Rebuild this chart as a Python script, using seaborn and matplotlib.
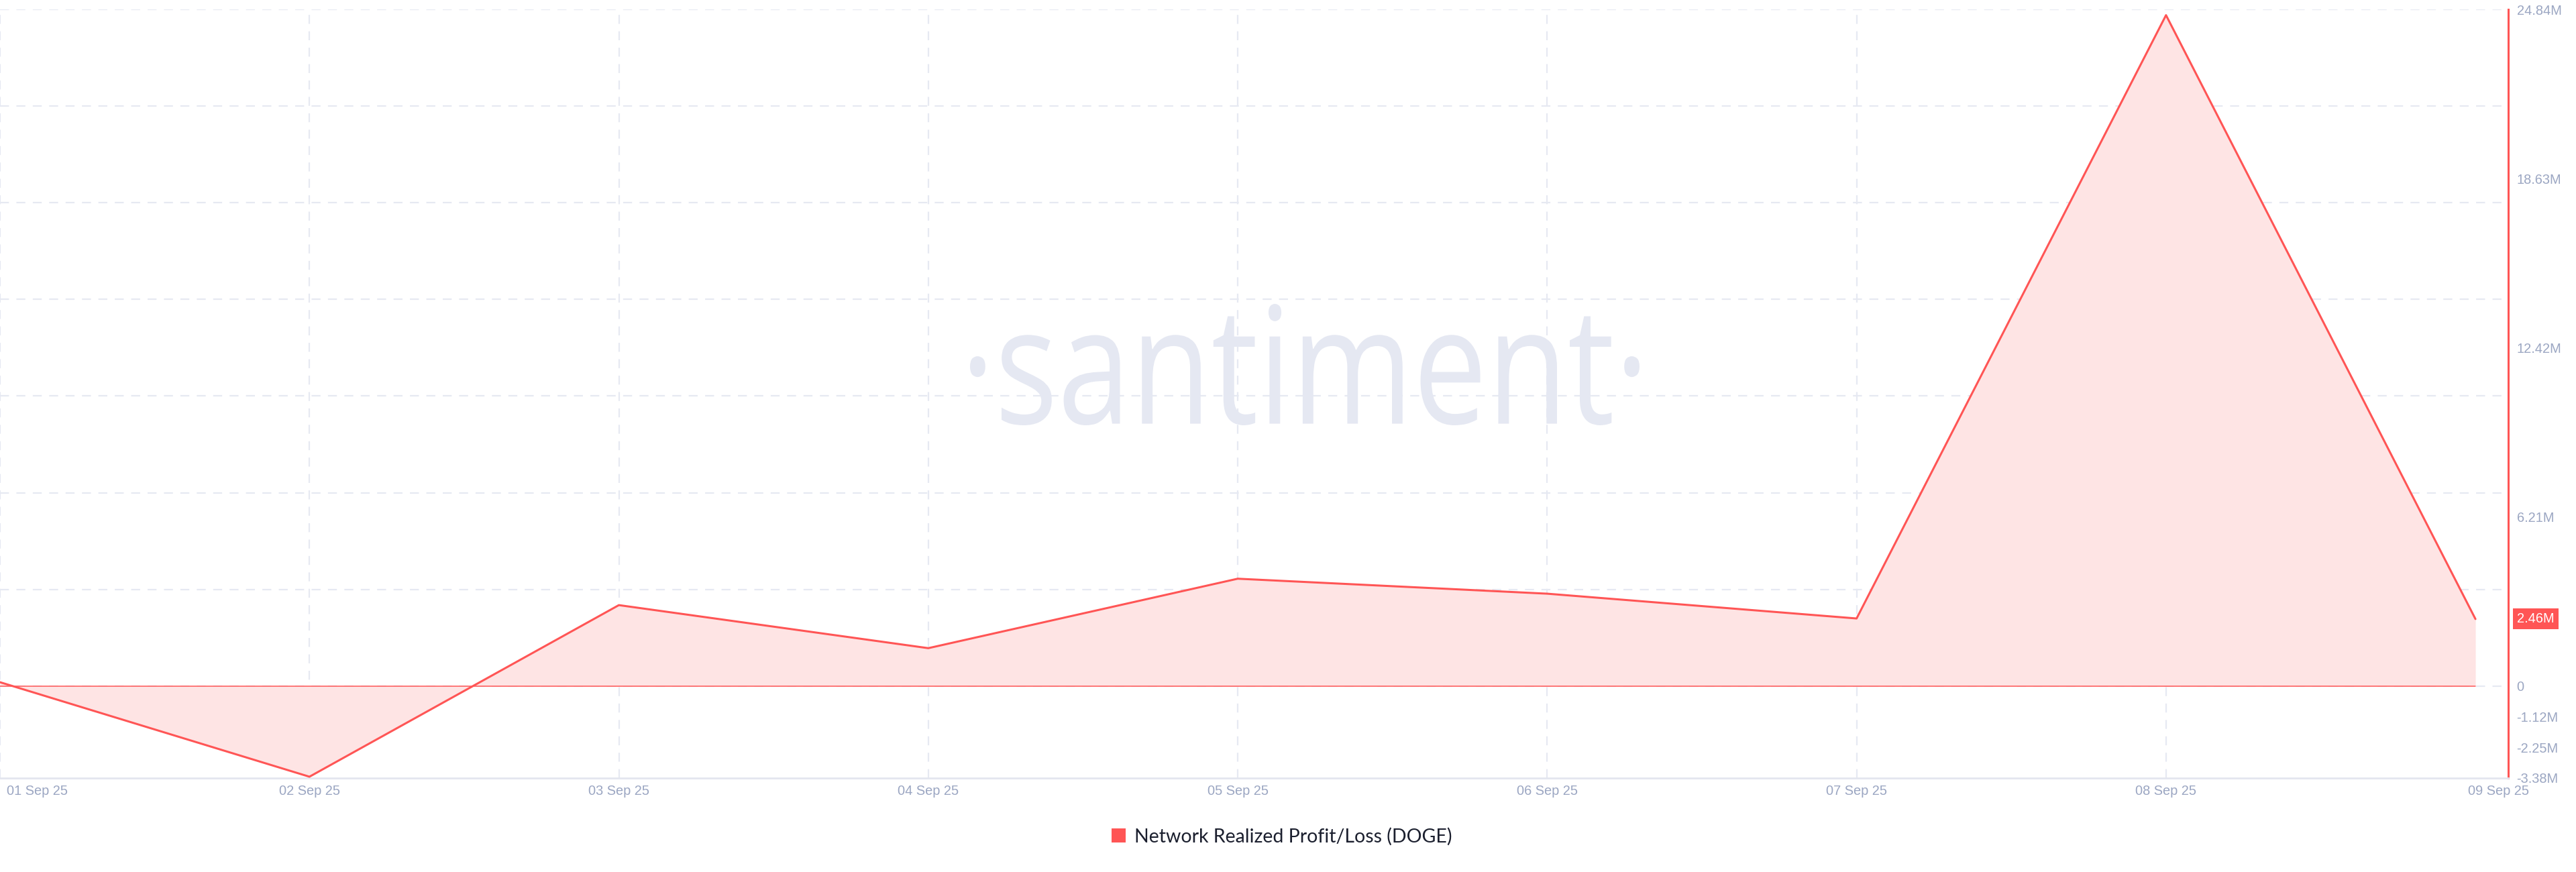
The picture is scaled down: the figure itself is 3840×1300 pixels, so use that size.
import numpy as np
import pandas as pd
import matplotlib
matplotlib.use("Agg")
import matplotlib.pyplot as plt
import matplotlib.transforms as mtransforms
from matplotlib.patches import Patch, PathPatch
from matplotlib.textpath import TextPath
from matplotlib.font_manager import FontProperties
import seaborn as sns

# Chart data (values in millions)
dates = ["01 Sep 25", "02 Sep 25", "03 Sep 25", "04 Sep 25", "05 Sep 25",
         "06 Sep 25", "07 Sep 25", "08 Sep 25", "09 Sep 25"]
profit_loss = [0.14, -3.33, 2.97, 1.39, 3.94, 3.39, 2.48, 24.63, 2.46]
ytick_values = [24.84, 18.63, 12.42, 6.21, 0, -1.12, -2.25, -3.38]
ytick_labels = ["24.84M", "18.63M", "12.42M", "6.21M", "0", "-1.12M", "-2.25M", "-3.38M"]
series_name = "Network Realized Profit/Loss (DOGE)"

RED = "#ff5555"
FILL = "#fee4e4"
GRID = "#e6e9f2"
TICK = "#9ba6c2"

df = pd.DataFrame({"day": np.arange(len(dates)), "value": profit_loss})

sns.set_style("white")
plt.rcParams["font.family"] = ["Liberation Sans", "DejaVu Sans"]

fig = plt.figure(figsize=(38.4, 13), dpi=100)
ax = fig.add_axes([0.0, 0.1077, 0.9737, 0.8815])

ymin, ymax = min(ytick_values), max(ytick_values)
ax.set_xlim(0, len(dates) - 1 + 0.106)
ax.set_ylim(ymin, ymax)

# dashed grid: horizontal splits 0..max into 7 parts, vertical at each day
for gy in np.linspace(0, ymax, 8):
    ax.axhline(gy, color=GRID, lw=1.6, ls=(0, (6, 5)), zorder=0)
for gx in df["day"][:-1]:
    ax.axvline(gx, color=GRID, lw=1.6, ls=(0, (6, 5)), zorder=0)

ax.fill_between(df["day"], df["value"], 0, color=FILL, lw=0, zorder=1)
ax.plot([df["day"].iloc[0], df["day"].iloc[-1]], [0, 0], color=RED, lw=1.1, zorder=2)
sns.lineplot(data=df, x="day", y="value", ax=ax, color=RED, lw=2.2, zorder=3)

# watermark, squeezed into its box (pixel coords, figure is saved at 100 dpi)
tp = TextPath((0, 0), "·santiment·", size=100, prop=FontProperties(family="Open Sans"))
ext = tp.get_extents()
wm_trans = (mtransforms.Affine2D().translate(-ext.x0, -ext.y0)
            .scale(998 / ext.width, 181 / ext.height).translate(1446, 666))
ax.add_artist(PathPatch(tp, transform=wm_trans, fc="#e5e8f2", ec="none", zorder=0.5))

# spines
for s in ["left", "top"]:
    ax.spines[s].set_visible(False)
ax.spines["right"].set_color(RED)
ax.spines["right"].set_linewidth(2.2)
ax.spines["bottom"].set_color("#e3e6ef")
ax.spines["bottom"].set_linewidth(2)

# y ticks on the right
ax.yaxis.tick_right()
ax.set_yticks(ytick_values)
ax.set_yticklabels(ytick_labels)
ax.tick_params(axis="y", length=0, pad=9, labelsize=14.4, labelcolor=TICK)
ax.set_ylabel("")

# x ticks
ax.set_xticks(df["day"])
ax.set_xticklabels(dates)
ax.tick_params(axis="x", length=0, pad=7, labelsize=14.4, labelcolor=TICK)
ax.set_xlabel("")
xl = ax.get_xticklabels()
xl[0].set_ha("left")
xl[0].set_transform(xl[0].get_transform() + mtransforms.ScaledTranslation(0.10, 0, fig.dpi_scale_trans))
xl[-1].set_transform(xl[-1].get_transform() + mtransforms.ScaledTranslation(0.34, 0, fig.dpi_scale_trans))

# last value badge
last = profit_loss[-1]
ax.text(1.0, last, f"{last:.2f}M", ha="left", va="center", fontsize=14.4, color="white", zorder=5,
        transform=ax.get_yaxis_transform() + mtransforms.ScaledTranslation(0.13, 0, fig.dpi_scale_trans),
        bbox=dict(boxstyle="square,pad=0.3", fc=RED, ec="none"))

# legend
fig.legend(handles=[Patch(facecolor=RED, edgecolor="none", label=series_name)],
           loc="center", bbox_to_anchor=(0.4975, 0.0405), frameon=False,
           handlelength=0.75, handleheight=0.75, handletextpad=0.45,
           prop={"family": ["Lato", "DejaVu Sans"], "size": 20.5}, labelcolor="#1b1f2e")

fig.savefig("out.png", dpi=100, facecolor="white")
